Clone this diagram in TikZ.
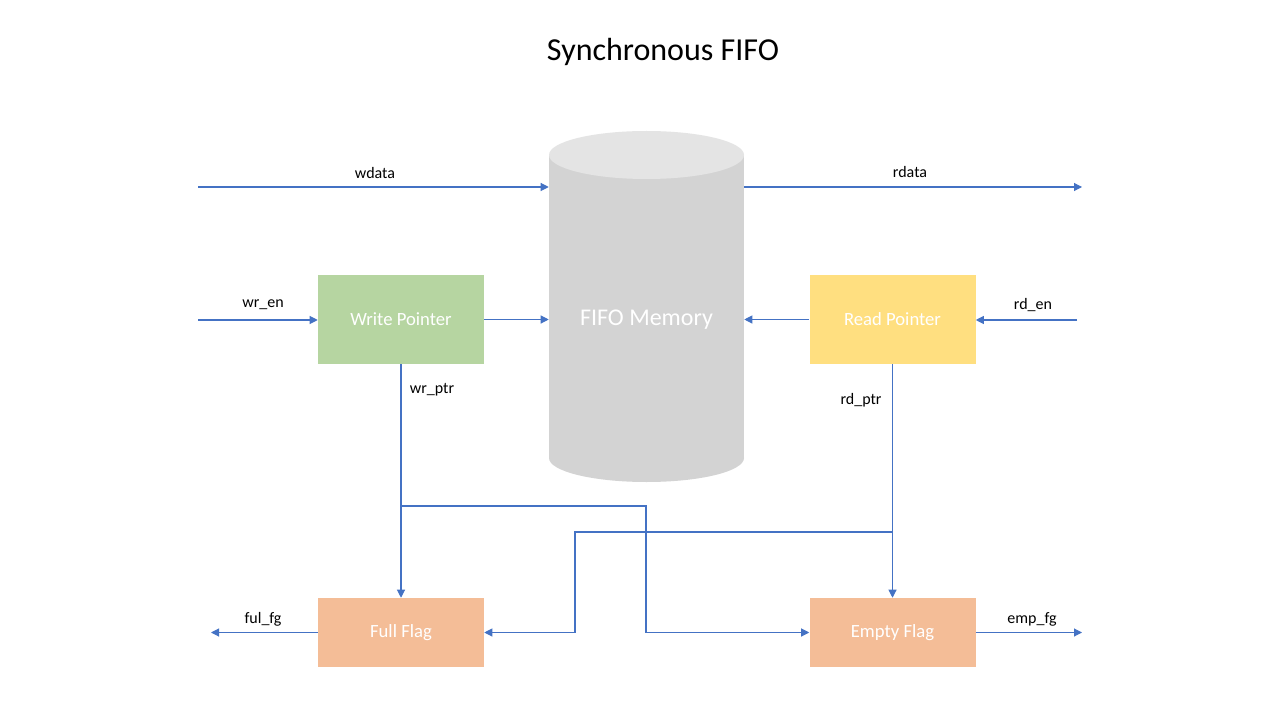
\documentclass[tikz,border=0pt]{standalone}
\usepackage{fontspec}
\setmainfont{Carlito}
\usetikzlibrary{arrows.meta}
\definecolor{lineblue}{HTML}{4472C4}
\definecolor{wpgreen}{HTML}{B6D5A1}
\definecolor{rpyellow}{HTML}{FFDF80}
\definecolor{flagorange}{HTML}{F4BD97}
\definecolor{membody}{HTML}{D3D3D3}
\definecolor{memtop}{HTML}{E4E4E4}
\tikzset{
  conn/.style={draw=lineblue, line width=0.8pt, -{Triangle[width=6pt,length=6pt]}},
  plain/.style={draw=lineblue, line width=0.8pt},
  blockbox/.style={minimum width=124.5pt, inner sep=0pt, text=white, font=\fontsize{14}{16}\selectfont},
  ptrbox/.style={blockbox, minimum height=66.75pt},
  flagbox/.style={blockbox, minimum height=51.75pt},
  sig/.style={font=\fontsize{12}{14}\selectfont, text=black, inner sep=0pt}
}
\begin{document}
\begin{tikzpicture}[x=0.75pt, y=-0.75pt]
\useasboundingbox (0,0) rectangle (1280,720);
\fill[white] (0,0) rectangle (1280,720);
\node[font=\fontsize{24}{28}\selectfont] (title) at (663,52) {Synchronous FIFO};
% memory cylinder
\fill[membody] (549,155) rectangle (744,458);
\fill[membody] (646.5,458) ellipse [x radius=97.5, y radius=24];
\fill[memtop] (646.5,155) ellipse [x radius=97.5, y radius=24];
\node[minimum width=146.25pt, minimum height=225pt, inner sep=0pt, text=white, font=\fontsize{18}{22}\selectfont] (mem) at (646.5,320) {FIFO Memory};
% blocks
\node[ptrbox, fill=wpgreen] (wp) at (401,319.5) {Write Pointer};
\node[ptrbox, fill=rpyellow] (rp) at (892.5,319.5) {Read Pointer};
\node[flagbox, fill=flagorange] (ff) at (401,632.5) {Full Flag};
\node[flagbox, fill=flagorange] (ef) at (892.5,632.5) {Empty Flag};
% free ends
\coordinate (wdin) at (198,187);
\coordinate (rdout) at (1082,187);
\coordinate (wrin) at (198,320);
\coordinate (rdin) at (1077,320);
\coordinate (fout) at (211,633);
\coordinate (eout) at (1082,633);
\coordinate (wbr) at (401,506);
\coordinate (wj) at (646,506);
\coordinate (rbr) at (892.5,532);
\coordinate (rj) at (575,532);
% connectors
\draw[conn] (wdin) -- (wdin -| mem.west);
\draw[conn] (rdout -| mem.east) -- (rdout);
\draw[conn] (wrin) -- (wrin -| wp.west);
\draw[conn] (wp.east) -- (wp.east -| mem.west);
\draw[conn] (rp.west) -- (rp.west -| mem.east);
\draw[conn] (rdin) -- (rdin -| rp.east);
\draw[conn] (wp.south) -- (ff.north);
\draw[conn] (wbr) -- (wj) |- (ef.west);
\draw[conn] (rp.south) -- (ef.north);
\draw[conn] (rbr) -- (rj) |- (ff.east);
\draw[conn] (ff.west) -- (ff.west -| fout);
\draw[conn] (ef.east) -- (ef.east -| eout);
% labels
\node[sig] (lwdata) at (375,173) {wdata};
\node[sig] (lrdata) at (910,172) {rdata};
\node[sig] (lwren) at (263,305) {wr\_en};
\node[sig] (lrden) at (1033,305) {rd\_en};
\node[sig] (lwrptr) at (432,390) {wr\_ptr};
\node[sig] (lrdptr) at (861,400) {rd\_ptr};
\node[sig] (lful) at (263,619) {ful\_fg};
\node[sig] (lemp) at (1032,619) {emp\_fg};
\end{tikzpicture}
\end{document}
